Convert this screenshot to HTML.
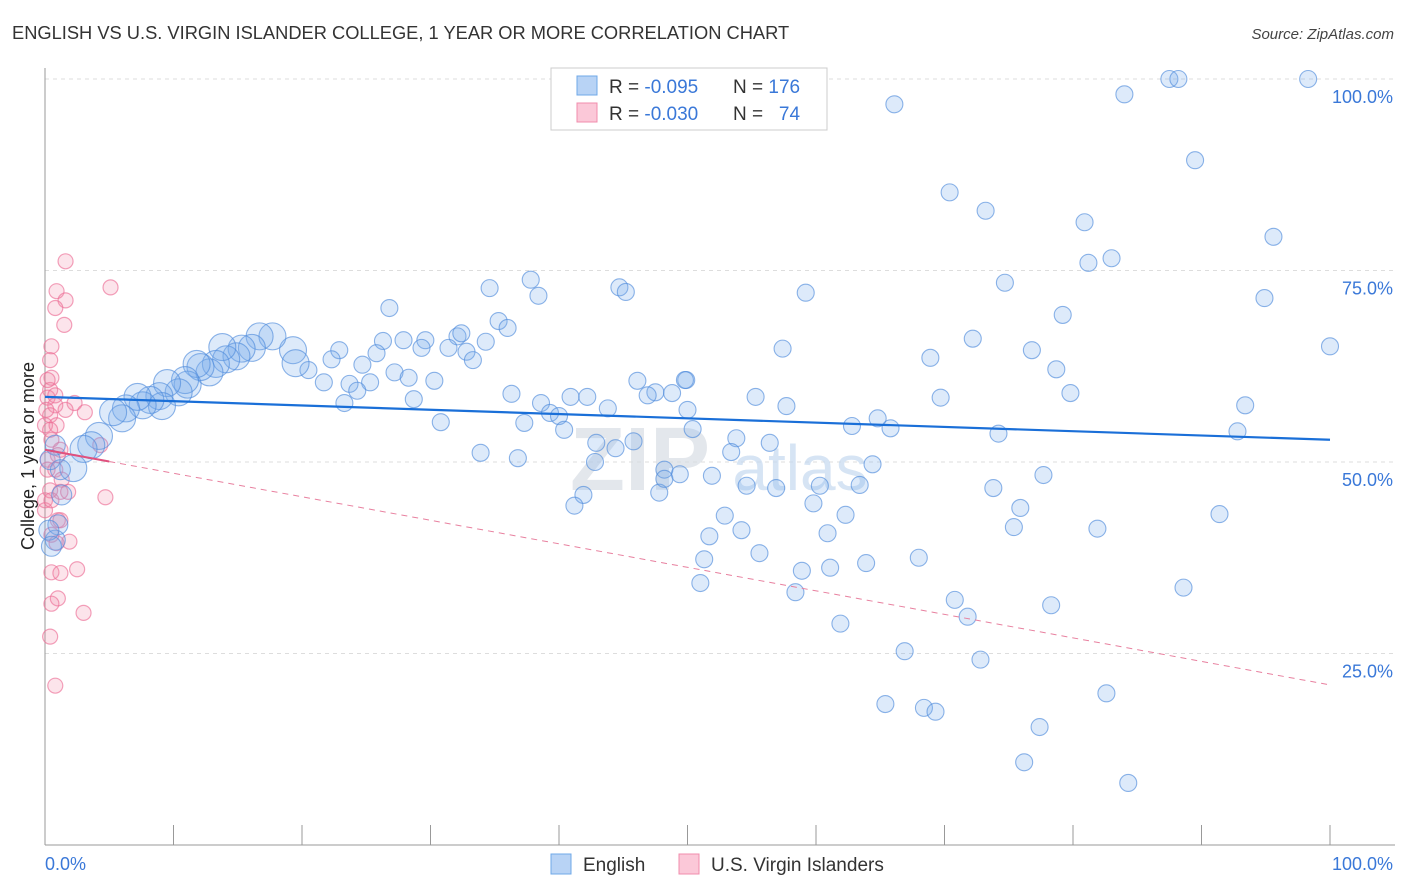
<!DOCTYPE html>
<html><head><meta charset="utf-8"><style>
body{margin:0;background:#fff;font-family:"Liberation Sans",sans-serif;}
#wrap{position:relative;width:1406px;height:892px;overflow:hidden;}
svg text{font-family:"Liberation Sans",sans-serif;}
</style></head><body>
<div id="wrap">
<svg id="chart" width="1406" height="892">
<text x="12" y="39" font-size="18.3" fill="#333">ENGLISH VS U.S. VIRGIN ISLANDER COLLEGE, 1 YEAR OR MORE CORRELATION CHART</text>
<text x="1394" y="39" font-size="15" fill="#444" font-style="italic" text-anchor="end">Source: ZipAtlas.com</text>
<text x="34" y="456" font-size="18" fill="#222" text-anchor="middle" transform="rotate(-90 34 456)">College, 1 year or more</text>
<g id="grid"></g>
<text x="640" y="490" font-size="90" fill="#d8dde4" font-weight="bold" font-family="Liberation Serif" text-anchor="middle" opacity="0.7">ZIP</text>
<text x="800" y="490" font-size="64" fill="#c6daf0" text-anchor="middle" opacity="0.7">atlas</text>
<g id="pink"></g><g id="blue"></g><g id="trends"></g>
<g>
<rect x="551" y="68" width="276" height="62" fill="#fff" stroke="#ccc"/>
<rect x="577" y="76" width="20" height="19" fill="#b8d3f5" stroke="#6fa8e8"/>
<rect x="577" y="103" width="20" height="19" fill="#fbc8d8" stroke="#f08cac"/>
<text x="609" y="93" font-size="19" fill="#333">R = <tspan fill="#3a78d8">-0.095</tspan></text>
<text x="733" y="93" font-size="19" fill="#333">N = <tspan fill="#3a78d8">176</tspan></text>
<text x="609" y="120" font-size="19" fill="#333">R = <tspan fill="#3a78d8">-0.030</tspan></text>
<text x="733" y="120" font-size="19" fill="#333">N = <tspan fill="#3a78d8">&#160;&#160;74</tspan></text>
</g>
<g>
<rect x="551" y="854" width="20" height="20" fill="#b8d3f5" stroke="#6fa8e8"/>
<text x="583" y="871" font-size="19" fill="#333">English</text></g>
<g>
<rect x="679" y="854" width="20" height="20" fill="#fbc8d8" stroke="#f08cac"/>
<text x="711" y="871" font-size="19" fill="#333">U.S. Virgin Islanders</text></g>
</svg></div>
<script>
const yTicks=[25,50,75,100];
const yTickLabels=["25.0%","50.0%","75.0%","100.0%"];
const xTickLabels=["0.0%","100.0%"];
const blueX=[87.5,88.2,98.3,66.1,84.0,89.5,70.4,73.2,80.9,95.6,81.2,83.0,74.7,94.9,59.2,79.2,100,72.2,76.8,68.9,57.4,78.7,79.8,69.7,55.3,57.7,93.4,92.8,74.2,64.8,65.8,62.8,50.4,53.8,56.4,53.4,64.4,50.0,49.9,51.9,49.4,48.2,47.8,54.6,56.9,60.3,63.4,77.7,73.8,75.9,75.4,81.9,91.4,59.8,62.3,52.9,51.7,54.2,55.6,60.9,63.9,68.0,58.9,61.1,51.3,51.0,58.4,70.8,71.8,78.3,88.6,61.9,66.9,72.8,82.6,65.4,68.4,69.3,77.4,76.2,84.3,
34.6,37.8,38.4,44.7,45.2,26.8,35.3,36.0,32.1,34.3,32.4,29.6,27.9,26.3,29.3,31.4,32.8,33.3,25.8,24.7,27.2,28.3,30.3,22.9,22.3,20.5,21.7,23.7,25.3,24.3,23.3,28.7,36.3,38.6,40.9,42.2,43.8,46.1,47.5,46.9,48.8,49.8,39.3,40.0,37.3,40.4,30.8,33.9,36.8,42.9,44.4,45.8,42.8,41.9,41.2,48.2,
19.3,19.5,17.7,16.7,16.1,15.3,14.9,14.1,13.8,13.3,12.8,12.1,11.8,11.1,10.9,10.4,9.5,8.9,9.1,8.2,7.6,7.2,6.3,6.0,5.3,4.2,3.6,3.0,2.2,1.2,0.8,0.4,1.3,1.0,0.8,0.3,0.5];
const blueY=[100,100,100,96.7,98.0,89.4,85.2,82.8,81.3,79.4,76.0,76.6,73.4,71.4,72.1,69.2,65.1,66.1,64.6,63.6,64.8,62.1,59.0,58.4,58.5,57.3,57.4,54.0,53.7,55.7,54.4,54.7,54.3,53.1,52.5,51.3,49.7,56.8,60.7,48.2,48.4,49.0,46.0,46.9,46.6,46.9,47.0,48.3,46.6,44.0,41.5,41.3,43.2,44.6,43.1,43.0,40.3,41.1,38.1,40.7,36.8,37.5,35.8,36.2,37.3,34.2,33.0,32.0,29.8,31.3,33.6,28.9,25.3,24.2,19.8,18.4,17.9,17.4,15.4,10.8,8.1,
72.7,73.8,71.7,72.8,72.2,70.1,68.4,67.5,66.4,65.7,66.8,65.9,65.9,65.8,64.9,64.9,64.4,63.3,64.2,62.7,61.7,61.0,60.6,64.6,63.4,62.0,60.4,60.2,60.4,59.3,57.7,58.2,58.9,57.7,58.5,58.5,57.0,60.6,59.1,58.7,59.0,60.7,56.4,56.0,55.1,54.2,55.2,51.2,50.5,52.5,51.8,52.7,50.0,45.7,44.3,47.8,
64.6,62.9,66.4,66.4,64.9,64.8,63.8,63.4,65.0,62.8,61.7,62.4,62.8,60.1,60.7,59.1,60.3,58.6,57.3,58.1,57.4,58.5,57.0,55.7,56.5,53.4,52.2,51.7,49.2,49.0,52.2,50.3,45.7,41.8,39.8,41.1,39.0];
const pinkX=[1.6,0.9,1.6,0.8,1.5,5.1,0.5,0.4,0.5,0.4,0.2,0.8,0.4,0,0.9,2.3,3.1,0.5,1.2,0.2,0.8,1.3,0.4,1.2,0,1.0,0.5,4.7,1.8,0.9,1.9,0.5,1.2,2.5,1.0,0.5,0.4,0.8,3.0,0.2,0.1,0.4,1.0,0,0.8,1.6,1.2,0.5,0.2,4.3];
const pinkY=[76.2,72.3,71.1,70.1,67.9,72.8,65.1,63.3,61.0,59.4,58.4,57.4,56.1,54.8,54.8,57.7,56.5,52.9,51.6,50.3,49.0,47.7,46.3,46.1,43.7,42.4,40.5,45.4,46.1,39.4,39.6,35.6,35.5,36.0,32.2,31.5,27.2,20.8,30.3,60.7,56.8,54.2,50.9,45.0,58.7,56.8,42.4,45.0,49.0,52.2];
const blueTrend=[58.5,52.9];
const pinkTrend=[51.6,20.9];
const NS='http://www.w3.org/2000/svg';
const X0=45,X1=1330,Y0=845,Y1=79;
function sx(v){return X0+(X1-X0)*v/100;}
function sy(v){return Y0-(Y0-Y1)*v/100;}
function mk(t,a,p){const e=document.createElementNS(NS,t);for(const k in a)e.setAttribute(k,a[k]);p.appendChild(e);return e;}
const grid=document.getElementById('grid');
yTicks.forEach((t,i)=>{
 const l=mk('line',{x1:X0,x2:1395,y1:sy(t),y2:sy(t),stroke:'#ddd','stroke-dasharray':'4,4'},grid);
 
 
 const tx=mk('text',{x:1393,y:sy(t)+24,'font-size':18,fill:'#3a78d8','text-anchor':'end'},grid);
 tx.textContent=yTickLabels[i];
 
 
});
const ax=mk('line',{x1:X0,x2:X0,y1:68,y2:Y0,stroke:'#999'},grid);


const bx=mk('line',{x1:X0,x2:1395,y1:Y0,y2:Y0,stroke:'#999'},grid);


for(let i=0;i<=10;i++){const t=mk('line',{x1:sx(i*10),x2:sx(i*10),y1:825,y2:Y0,stroke:'#999'},grid);
 
 }
[[0,'start',X0],[100,'end',1393]].forEach((d,i)=>{const t=mk('text',{x:d[2],y:870,'font-size':18,fill:'#3a78d8','text-anchor':d[1]},grid);t.textContent=xTickLabels[i];
 
 });
const pg=document.getElementById('pink');
pinkX.forEach((x,i)=>{const c=mk('circle',{cx:sx(x),cy:sy(pinkY[i]),r:7.5,fill:'rgba(242,130,165,0.22)',stroke:'rgba(236,110,150,0.65)','stroke-width':1.2},pg);
 
 });
const bg=document.getElementById('blue');
blueX.forEach((x,i)=>{const r=x<2?10:(x<20?13.5:8.5);const c=mk('circle',{cx:sx(x),cy:sy(blueY[i]),r:r,fill:'rgba(120,170,235,0.25)',stroke:'rgba(80,140,220,0.65)','stroke-width':1.1},bg);
 
 });
const tg=document.getElementById('trends');
const bl=mk('line',{x1:sx(0),y1:sy(blueTrend[0]),x2:sx(100),y2:sy(blueTrend[1]),stroke:'#1a6fd8','stroke-width':2.2},tg);


const pk=(v)=>pinkTrend[0]+(pinkTrend[1]-pinkTrend[0])*v/100;
const ps=mk('line',{x1:sx(0),y1:sy(pk(0)),x2:sx(5),y2:sy(pk(5)),stroke:'#e0507e','stroke-width':2},tg);


const pd=mk('line',{x1:sx(5),y1:sy(pk(5)),x2:sx(100),y2:sy(pk(100)),stroke:'#e8809f','stroke-width':1,'stroke-dasharray':'6,5'},tg);


</script>
</body></html>
